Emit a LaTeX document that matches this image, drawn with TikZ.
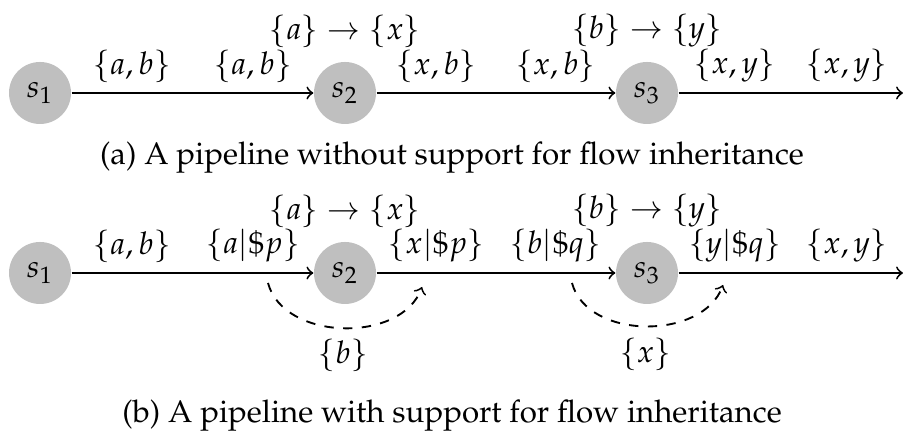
\documentclass[tikz,border=0pt]{standalone}
\usepackage[T1]{fontenc}
\usepackage{mathpazo}
\usetikzlibrary{calc}
\begin{document}
\begin{tikzpicture}[x=0.32pt,y=0.32pt,
  state/.style={circle,fill=gray!50,inner sep=0pt,minimum size=19.84pt},
  flow/.style={->,line width=0.6pt},
  inherit/.style={->,dashed,line width=0.6pt},
  lab/.style={above=2.6pt,inner sep=0.5pt},
  maplab/.style={inner sep=0.5pt}]
\useasboundingbox (0,0) rectangle (903,435);

% (a) pipeline without flow inheritance
\node[state] (a1) at (40,342) {$s_1$};
\node[state] (a2) at (345,342) {$s_2$};
\node[state] (a3) at (647,342) {$s_3$};
\coordinate (aend) at (903,342);
\draw[flow] (a1) -- node[pos=.25,lab]{$\{a,b\}$} node[pos=.75,lab]{$\{a,b\}$} (a2);
\draw[flow] (a2) -- node[pos=.25,lab]{$\{x,b\}$} node[pos=.75,lab]{$\{x,b\}$} (a3);
\draw[flow] (a3) -- node[pos=.25,lab]{$\{x,y\}$} node[pos=.75,lab]{$\{x,y\}$} (aend);
\node[maplab] (am2) at ($(a2)+(0,62)$) {$\{a\}\rightarrow\{x\}$};
\node[maplab] (am3) at ($(a3)+(0,62)$) {$\{b\}\rightarrow\{y\}$};
\node (capa) at (452,277) {(a) A pipeline without support for flow inheritance};

% (b) pipeline with flow inheritance
\node[state] (b1) at (40,162) {$s_1$};
\node[state] (b2) at (345,162) {$s_2$};
\node[state] (b3) at (647,162) {$s_3$};
\coordinate (bend) at (903,162);
\draw[flow] (b1) -- node[pos=.25,lab]{$\{a,b\}$} node[pos=.75,lab]{$\{a|\$p\}$} (b2);
\draw[flow] (b2) -- node[pos=.25,lab]{$\{x|\$p\}$} node[pos=.75,lab]{$\{b|\$q\}$} (b3);
\draw[flow] (b3) -- node[pos=.25,lab]{$\{y|\$q\}$} node[pos=.75,lab]{$\{x,y\}$} (bend);
\node[maplab] (bm2) at ($(b2)+(0,62)$) {$\{a\}\rightarrow\{x\}$};
\node[maplab] (bm3) at ($(b3)+(0,62)$) {$\{b\}\rightarrow\{y\}$};

% inherited flows bypassing each stage
\coordinate (p2in) at (268,152);
\coordinate (p2out) at (422,148);
\coordinate (p3in) at (572,152);
\coordinate (p3out) at (723,150);
\draw[inherit] (p2in) to[out=-75,in=-110] node[midway,below]{$\{b\}$} (p2out);
\draw[inherit] (p3in) to[out=-75,in=-110] node[midway,below]{$\{x\}$} (p3out);

\node (capb) at (452,19) {(b) A pipeline with support for flow inheritance};
\end{tikzpicture}
\end{document}
